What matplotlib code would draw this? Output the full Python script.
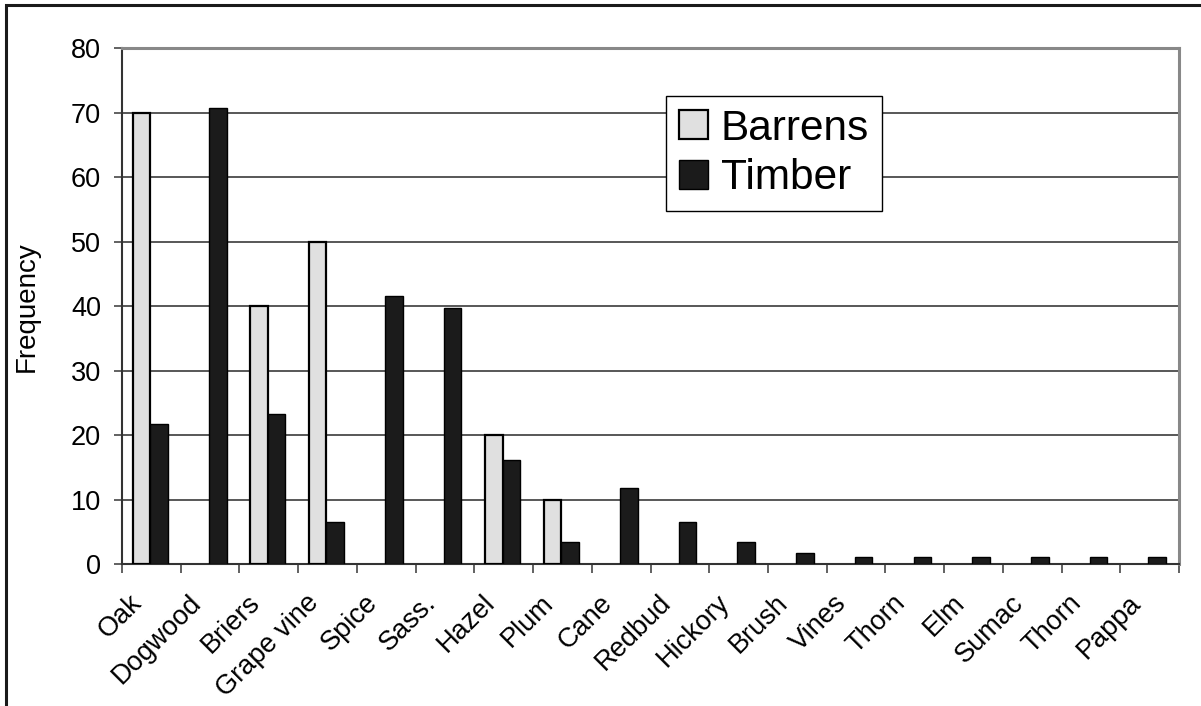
import numpy as np
import matplotlib
matplotlib.use("Agg")
import matplotlib.pyplot as plt
from matplotlib.patches import Rectangle
from matplotlib.ticker import FixedLocator
from matplotlib.transforms import ScaledTranslation

plt.rcParams['font.family'] = ['Liberation Sans', 'DejaVu Sans']

# Species recorded in barrens vs. timber
categories = ["Oak", "Dogwood", "Briers", "Grape vine", "Spice", "Sass.", "Hazel",
              "Plum", "Cane", "Redbud", "Hickory", "Brush", "Vines", "Thorn",
              "Elm", "Sumac", "Thorn", "Pappa"]
barrens = [70, 0, 40, 50, 0, 0, 20, 10, 0, 0, 0, 0, 0, 0, 0, 0, 0, 0]
timber = [21.7, 70.7, 23.3, 6.5, 41.6, 39.7, 16.2, 3.5, 11.8, 6.6, 3.5,
          1.7, 1.1, 1.1, 1.1, 1.1, 1.1, 1.1]
y_ticks = [0, 10, 20, 30, 40, 50, 60, 70, 80]

W, H = 1201, 706
fig = plt.figure(figsize=(W / 100, H / 100), dpi=100)
ax = fig.add_axes([122 / W, 1 - 564.3 / H, (1179 - 122) / W, (564.3 - 48.5) / H])

x = np.arange(len(categories))
bw = 0.30
b_vals = np.array(barrens, dtype=float)
t_vals = np.array(timber, dtype=float)
# empty categories get no outline
ax.bar(x - bw / 2 - 0.02, b_vals, bw, color="#e0e0e0", edgecolor="black",
       linewidth=np.where(b_vals > 0, 1.6, 0.0), label="Barrens", zorder=3)
ax.bar(x + bw / 2 - 0.02, t_vals, bw, color="#1b1b1b", edgecolor="black",
       linewidth=np.where(t_vals > 0, 1.0, 0.0), label="Timber", zorder=3)

ax.set_xlim(-0.5, len(categories) - 0.5)
ax.set_ylim(0, 80)
ax.set_yticks(y_ticks)
ax.yaxis.grid(True, color="#4a4a4a", linewidth=1.3, zorder=0)
ax.set_axisbelow(True)

# category labels centered, tick marks between categories
ax.set_xticks(x)
ax.set_xticklabels(categories, rotation=45, ha="right", va="center",
                   rotation_mode="anchor")
ax.xaxis.set_minor_locator(FixedLocator(np.arange(-0.5, len(categories), 1.0)))
ax.tick_params(axis="x", which="major", length=0, pad=25, labelsize=19.5)
ax.tick_params(axis="x", which="minor", length=6.5, width=1.3, color="#555555")
ax.tick_params(axis="y", length=6, width=1.3, color="#555555", pad=9, labelsize=19.5)

# nudge the slanted labels so their ends sit just left of each category centre
shift = ScaledTranslation(-13 / 100, 0, fig.dpi_scale_trans)
for lbl in ax.get_xticklabels():
    lbl.set_transform(lbl.get_transform() + shift)

for side in ("left", "bottom"):
    ax.spines[side].set_color("#333333")
    ax.spines[side].set_linewidth(1.5)
for side in ("top", "right"):
    ax.spines[side].set_color("#888888")
    ax.spines[side].set_linewidth(2.2)

ax.set_ylabel("Frequency", fontsize=20)
ax.yaxis.set_label_coords(-(122 - 27) / (1179 - 122), 0.5)
ax.yaxis.label.set_va("center")

leg = ax.legend(loc="upper left", bbox_to_anchor=(0.515, 0.908), borderaxespad=0,
                fontsize=30.5, frameon=True, fancybox=False, framealpha=1,
                edgecolor="black", handlelength=0.68, handleheight=0.68,
                handletextpad=0.3, labelspacing=0.22, borderpad=0.3)
leg.get_frame().set_linewidth(1.0)

# outer chart border (left and top edges fall inside the canvas)
top = 1 - 5 / H
fig.patches.append(Rectangle((6 / W, -0.2), 1.2, top + 0.2, transform=fig.transFigure,
                             fill=False, edgecolor="#1a1a1a", linewidth=2.2))

fig.savefig("out.png", dpi=100)
